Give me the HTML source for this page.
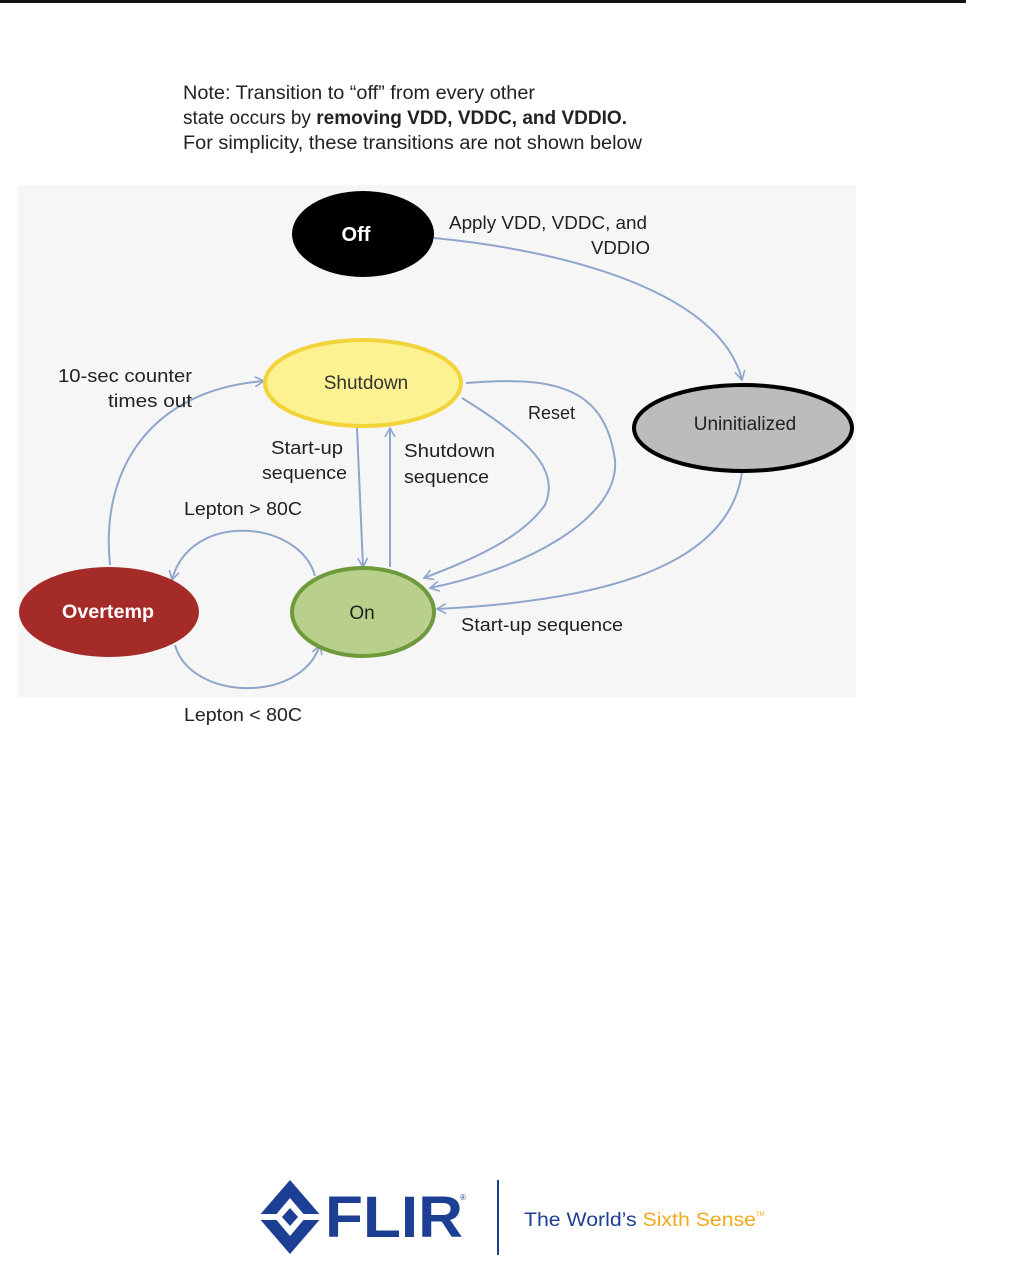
<!DOCTYPE html>
<html><head><meta charset="utf-8"><style>
html,body{margin:0;padding:0;background:#fff;}
svg{display:block;}
text{font-family:"Liberation Sans",sans-serif;}
</style></head><body>
<svg width="1018" height="1282" viewBox="0 0 1018 1282" xmlns="http://www.w3.org/2000/svg">
<defs>
<marker id="a" markerWidth="12" markerHeight="12" refX="10" refY="6" orient="auto" markerUnits="userSpaceOnUse">
<path d="M1,1 L10,6 L1,11" fill="none" stroke="#8fa6cc" stroke-width="1.6"/>
</marker>
</defs>
<rect x="0" y="0" width="966" height="3" fill="#111"/>
<g font-size="19" fill="#222">
<text x="183" y="99" textLength="352" lengthAdjust="spacingAndGlyphs">Note: Transition to “off” from every other</text>
<text x="183" y="124" textLength="444" lengthAdjust="spacingAndGlyphs">state occurs by <tspan font-weight="bold">removing VDD, VDDC, and VDDIO.</tspan></text>
<text x="183" y="149" textLength="459" lengthAdjust="spacingAndGlyphs">For simplicity, these transitions are not shown below</text>
</g>
<rect x="18" y="185" width="838" height="512" fill="#f6f6f6"/>
<g fill="none" stroke="#8fa6cc" stroke-width="2">
<path d="M434,238 C560,250 720,290 742,380" marker-end="url(#a)"/>
<path d="M110,565 C100,470 150,390 264,381" marker-end="url(#a)"/>
<path d="M357,428 L363,567" marker-end="url(#a)"/>
<path d="M390,567 L390,428" marker-end="url(#a)"/>
<path d="M462,398 C530,440 560,470 545,505 C520,540 470,560 424,578" marker-end="url(#a)"/>
<path d="M466,383 C560,375 605,390 615,460 C620,520 520,570 430,588" marker-end="url(#a)"/>
<path d="M742,472 C730,560 620,600 437,609" marker-end="url(#a)"/>
<path d="M315,576 C300,520 190,510 172,580" marker-end="url(#a)"/>
<path d="M175,645 C190,700 300,705 320,645" marker-end="url(#a)"/>
</g>
<ellipse cx="363" cy="234" rx="71" ry="43" fill="#000"/>
<text x="356" y="241" font-size="20" font-weight="bold" fill="#fff" text-anchor="middle">Off</text>
<ellipse cx="363" cy="383" rx="98" ry="43" fill="#fdf292" stroke="#f2d43a" stroke-width="4"/>
<text x="366" y="389" font-size="19" fill="#333" text-anchor="middle">Shutdown</text>
<ellipse cx="743" cy="428" rx="109" ry="43" fill="#bcbcbc" stroke="#000" stroke-width="4"/>
<text x="745" y="430" font-size="19" fill="#222" text-anchor="middle">Uninitialized</text>
<ellipse cx="109" cy="612" rx="90" ry="45" fill="#a52b28"/>
<text x="108" y="618" font-size="19" font-weight="bold" fill="#fff" text-anchor="middle" textLength="92" lengthAdjust="spacingAndGlyphs">Overtemp</text>
<ellipse cx="363" cy="612" rx="71" ry="44" fill="#b9d08c" stroke="#6f9a3c" stroke-width="4"/>
<text x="362" y="619" font-size="19" fill="#222" text-anchor="middle">On</text>
<g font-size="18" fill="#222">
<text x="449" y="229" textLength="198" lengthAdjust="spacingAndGlyphs">Apply VDD, VDDC, and</text>
<text x="591" y="254" textLength="59" lengthAdjust="spacingAndGlyphs">VDDIO</text>
<text x="58" y="382" textLength="134" lengthAdjust="spacingAndGlyphs">10-sec  counter</text>
<text x="108" y="407" textLength="84" lengthAdjust="spacingAndGlyphs">times out</text>
<text x="528" y="419">Reset</text>
<text x="271" y="454" textLength="72" lengthAdjust="spacingAndGlyphs">Start-up</text>
<text x="262" y="479" textLength="85" lengthAdjust="spacingAndGlyphs">sequence</text>
<text x="404" y="457" textLength="91" lengthAdjust="spacingAndGlyphs">Shutdown</text>
<text x="404" y="483" textLength="85" lengthAdjust="spacingAndGlyphs">sequence</text>
<text x="184" y="515" textLength="118" lengthAdjust="spacingAndGlyphs">Lepton &gt; 80C</text>
<text x="461" y="631" textLength="162" lengthAdjust="spacingAndGlyphs">Start-up sequence</text>
<text x="184" y="721" textLength="118" lengthAdjust="spacingAndGlyphs">Lepton &lt; 80C</text>
</g>
<g transform="translate(290,1217)">
<polygon points="0,-37 32,0 0,37 -32,0" fill="#1c3f94"/>
<polygon points="0,-19 16,0 0,19 -16,0" fill="#fff"/>
<rect x="-33" y="-3" width="66" height="6" fill="#fff"/>
<polygon points="0,-9 8,0 0,9 -8,0" fill="#1c3f94"/>
</g>
<text x="325" y="1237" font-size="58" font-weight="bold" fill="#1c3f94" textLength="138" lengthAdjust="spacingAndGlyphs">FLIR</text>
<text x="460" y="1200" font-size="8" fill="#1c3f94">®</text>
<rect x="497" y="1180" width="2" height="75" fill="#1c3f94"/>
<text x="524" y="1226" font-size="19" fill="#1c3f94" textLength="232" lengthAdjust="spacingAndGlyphs">The World’s <tspan fill="#f2a91c">Sixth Sense</tspan></text>
<text x="756" y="1216" font-size="6" fill="#f2a91c">TM</text>
</svg>
</body></html>
